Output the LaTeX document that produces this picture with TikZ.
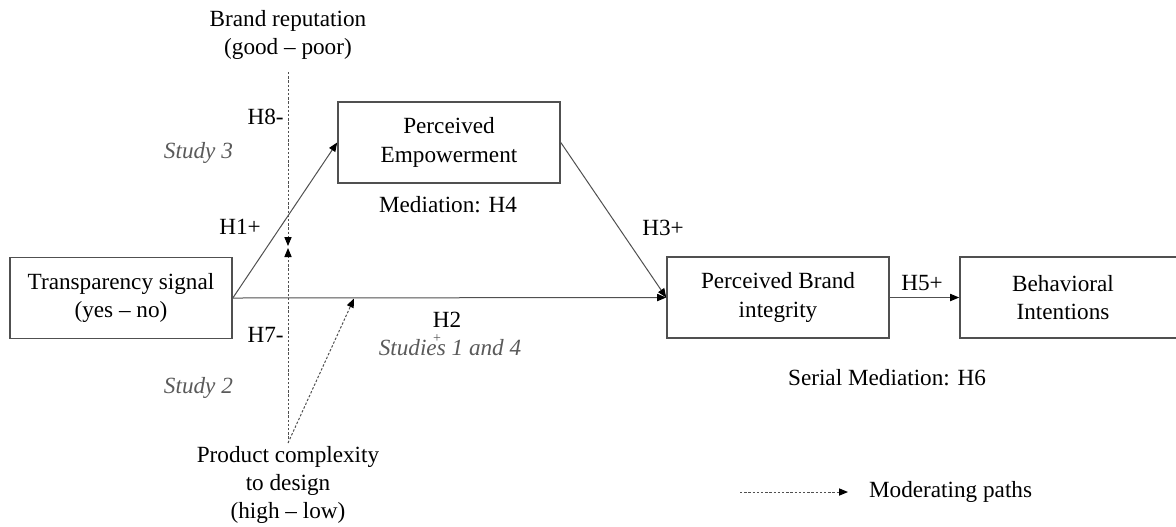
\documentclass[tikz,border=0pt]{standalone}
\usepackage{fontspec}
\setmainfont{Liberation Serif}
\usepackage{xcolor}
\usepackage{tikz}
\usetikzlibrary{arrows.meta, positioning}

\definecolor{lineg}{HTML}{505050}
\definecolor{studyg}{HTML}{5A5A5A}

\begin{document}
\begin{tikzpicture}[x=0.5pt, y=-0.5pt,
    font=\fontsize{11.6}{14.2}\selectfont,
    box/.style={draw=lineg, line width=0.8pt, align=center, minimum width=111pt, minimum height=40.5pt, inner sep=2pt},
    path/.style={draw=lineg, line width=0.5pt, -{Triangle[length=4.5pt, width=3.6pt, color=black]}},
    modpath/.style={path, dash pattern=on 1.2pt off 0.9pt},
    study/.style={font=\fontsize{11.6}{14.2}\selectfont\itshape, text=studyg}]
  \useasboundingbox (0,0) rectangle (1176,526);

  % constructs
  \node[box] (trans) at (121,298) {Transparency signal\\(yes -- no)};
  \node[box] (empow) at (449,142.5) {Perceived\\Empowerment};
  \node[box] (integ) at (778,297.5) {Perceived Brand\\integrity};
  \node[box, minimum width=114pt] (behav) at (1074,297.5) {};
  \node[align=center] (behavtxt) at (1063,297.5) {Behavioral\\Intentions};

  % moderators
  \node[align=center] (rep) at (288,35) {Brand reputation\\(good -- poor)};
  \node[align=center] (prod) at (288,485) {Product complexity\\to design\\(high -- low)};
  \coordinate (repEnd) at (288,72);
  \coordinate (prodEnd) at (288,443);
  \coordinate (mdown) at (288,246);
  \coordinate (mup) at (288,248);
  \coordinate (h2pt) at (354,298.5);

  % direct paths
  \draw[path] (trans.east) -- (empow.west);
  \draw[path] (trans.east) -- (integ.west);
  \draw[path] (empow.east) -- (integ.west);
  \draw[path] (integ.east) -- (behav.west);

  % moderating paths
  \draw[modpath] (repEnd) -- (mdown);
  \draw[modpath] (prodEnd) -- (mup);
  \draw[modpath] (prodEnd) -- (h2pt);

  % labels
  \node[anchor=east, inner sep=1pt] (h8) at (286,117) {H8-};
  \node[anchor=east, inner sep=1pt] (h7) at (286,335) {H7-};
  \node (h1) at (240,227) {H1+};
  \node[study, anchor=east] (st3) at (240,153) {Study 3};
  \node[study, anchor=east] (st2) at (240,388) {Study 2};
  \node (med) at (448,205) {Mediation: H4};
  \node (h3) at (663,228) {H3+};
  \node (h2) at (447,320) {H2};
  \node[study] (st14) at (450,348) {Studies 1 and 4};
  \node[font=\fontsize{7}{8}\selectfont, text=studyg, inner sep=0pt] (h2plus) at (437,339) {+};
  \node (h5) at (922,283) {H5+};
  \node (serial) at (887,378) {Serial Mediation: H6};

  % legend
  \coordinate (legA) at (740,492);
  \coordinate (legB) at (848,492);
  \draw[modpath] (legA) -- (legB);
  \node[anchor=west] (legend) at (862,492) {Moderating paths};
\end{tikzpicture}
\end{document}
